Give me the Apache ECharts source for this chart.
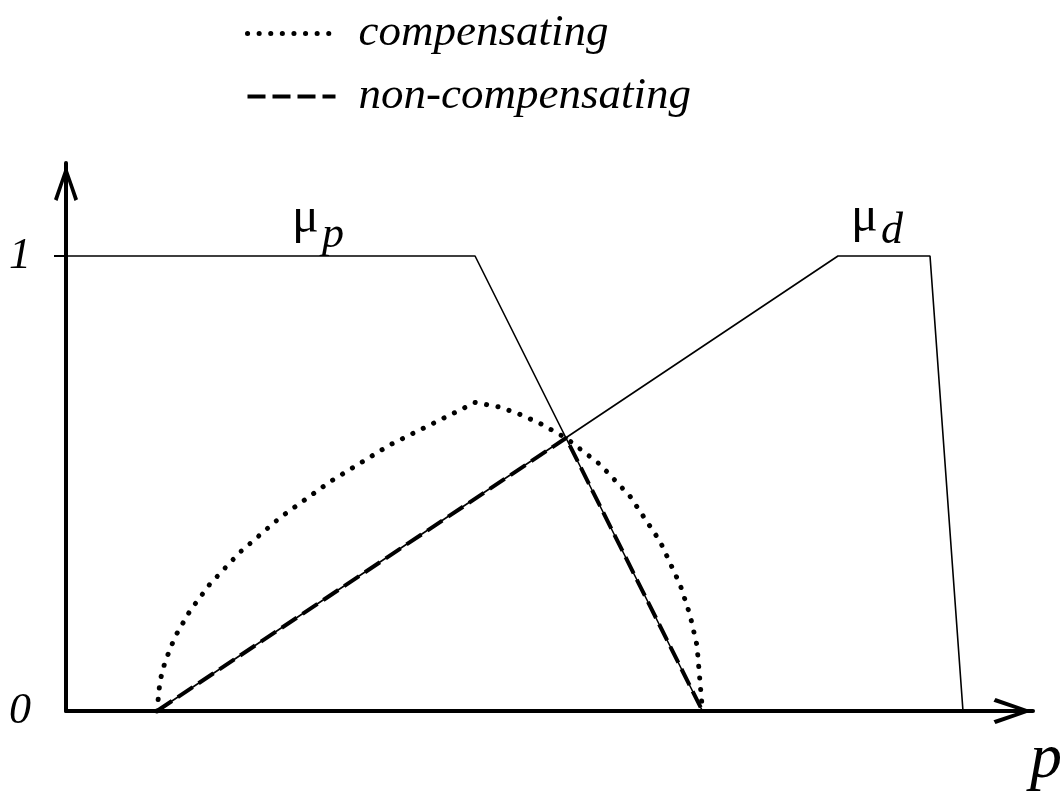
<!DOCTYPE html>
<html>
<head>
<meta charset="utf-8">
<script src="https://cdn.jsdelivr.net/npm/echarts@6/dist/echarts.min.js"></script>
<style>
  html, body { margin: 0; padding: 0; background: #fff; }
  #chart { width: 1063px; height: 795px; }
</style>
</head>
<body>
<div id="chart"></div>
<script>
// Membership functions over p (x in axis units, y = membership degree)
const muP = [[0, 1], [42.30, 1], [65.82, 0]];
const muD = [[9.41, 0], [79.83, 1], [89.35, 1], [92.76, 0]];

// Aggregated membership
const nonCompensating = [[9.41, 0], [51.71, 0.600], [65.82, 0]];
const compensating = [
  [9.41, 0], [9.72, 0.066], [10.24, 0.108], [11.27, 0.163], [12.82, 0.220],
  [14.89, 0.279], [17.99, 0.349], [22.13, 0.425], [27.30, 0.504], [33.51, 0.585],
  [42.30, 0.678], [44.88, 0.668], [46.95, 0.652], [49.02, 0.632], [51.71, 0.600],
  [55.22, 0.542], [58.32, 0.472], [61.43, 0.373], [63.50, 0.278], [64.53, 0.211],
  [65.25, 0.144], [65.82, 0]
];

const legendNames = ['compensating', 'non-compensating'];
const yTickValues = [0, 1];
const yTickLabels = ['0', '1'];
const xAxisName = 'p';

const serif = '"Liberation Serif", "Times New Roman", serif';
// open (chevron) arrow head, tip pointing outward
const openArrow = 'path://M13,0 L26,37 L22.2,39 L13,11 L3.8,39 L0,37 Z';

const thin = { color: '#000', width: 1.6 };
const dottedStyle = { color: '#000', width: 5, type: [0.1, 11.5], cap: 'round' };
const dashedStyle = { color: '#000', width: 4, type: [18, 7], cap: 'butt' };

const chart = echarts.init(document.getElementById('chart'), null, { renderer: 'canvas' });

chart.setOption({
  animation: false,
  backgroundColor: '#fff',
  color: ['#000'],
  grid: { left: 66, right: 30, top: 163, bottom: 84, containLabel: false, outerBoundsMode: 'none' },
  legend: {
    orient: 'vertical',
    left: 245,
    top: 11,
    padding: 0,
    itemWidth: 88,
    itemHeight: 20,
    itemGap: 18,
    selectedMode: false,
    itemStyle: { opacity: 0 },
    data: [
      { name: legendNames[0], lineStyle: dottedStyle, itemStyle: { opacity: 0 } },
      { name: legendNames[1], lineStyle: dashedStyle, itemStyle: { opacity: 0 } }
    ],
    textStyle: {
      fontFamily: serif, fontStyle: 'italic', fontSize: 45, color: '#000',
      padding: [0, 0, 0, 18]
    }
  },
  xAxis: {
    type: 'value',
    min: 0,
    max: 100,
    axisLine: {
      lineStyle: { color: '#000', width: 4 },
      symbol: ['none', openArrow],
      symbolSize: [26, 40],
      symbolOffset: [0, -20]
    },
    axisTick: { show: false },
    axisLabel: { show: false },
    splitLine: { show: false },
    name: xAxisName,
    nameLocation: 'end',
    nameGap: 29,
    nameTextStyle: {
      fontFamily: serif, fontStyle: 'italic', fontSize: 64, color: '#000',
      align: 'right', verticalAlign: 'top', padding: [17, 0, 0, 0]
    }
  },
  yAxis: {
    type: 'value',
    min: 0,
    max: 1.2044,
    axisLine: {
      show: true,
      lineStyle: { color: '#000', width: 4 },
      symbol: ['none', openArrow],
      symbolSize: [24, 40],
      symbolOffset: [0, -20]
    },
    axisTick: {
      show: true,
      customValues: [1],
      length: 12,
      lineStyle: { color: '#000', width: 2 }
    },
    axisLabel: {
      show: true,
      customValues: yTickValues,
      formatter: v => yTickLabels[yTickValues.indexOf(v)],
      margin: 35,
      fontFamily: serif, fontStyle: 'italic', fontSize: 44, color: '#000'
    },
    splitLine: { show: false }
  },
  series: [
    {
      name: 'μp', type: 'line', data: muP, symbol: 'none', clip: false,
      lineStyle: thin, itemStyle: { color: '#000' }, z: 2
    },
    {
      name: 'μd', type: 'line', data: muD, symbol: 'none', clip: false,
      lineStyle: thin, itemStyle: { color: '#000' }, z: 2
    },
    {
      name: 'non-compensating', type: 'line', data: nonCompensating, symbol: 'none', clip: false,
      lineStyle: dashedStyle, itemStyle: { color: '#000' }, z: 3
    },
    {
      name: 'compensating', type: 'line', data: compensating, symbol: 'none', clip: false,
      lineStyle: dottedStyle, itemStyle: { color: '#000' }, z: 4
    }
  ],
  graphic: [
    { type: 'text', x: 292, y: 219, style: { text: 'μ', font: '50px ' + serif, fill: '#000', textVerticalAlign: 'middle' } },
    { type: 'text', x: 322, y: 235, style: { text: 'p', font: 'italic 44px ' + serif, fill: '#000', textVerticalAlign: 'middle' } },
    { type: 'text', x: 851, y: 218, style: { text: 'μ', font: '50px ' + serif, fill: '#000', textVerticalAlign: 'middle' } },
    { type: 'text', x: 881, y: 231, style: { text: 'd', font: 'italic 44px ' + serif, fill: '#000', textVerticalAlign: 'middle' } }
  ]
});
</script>
</body>
</html>
